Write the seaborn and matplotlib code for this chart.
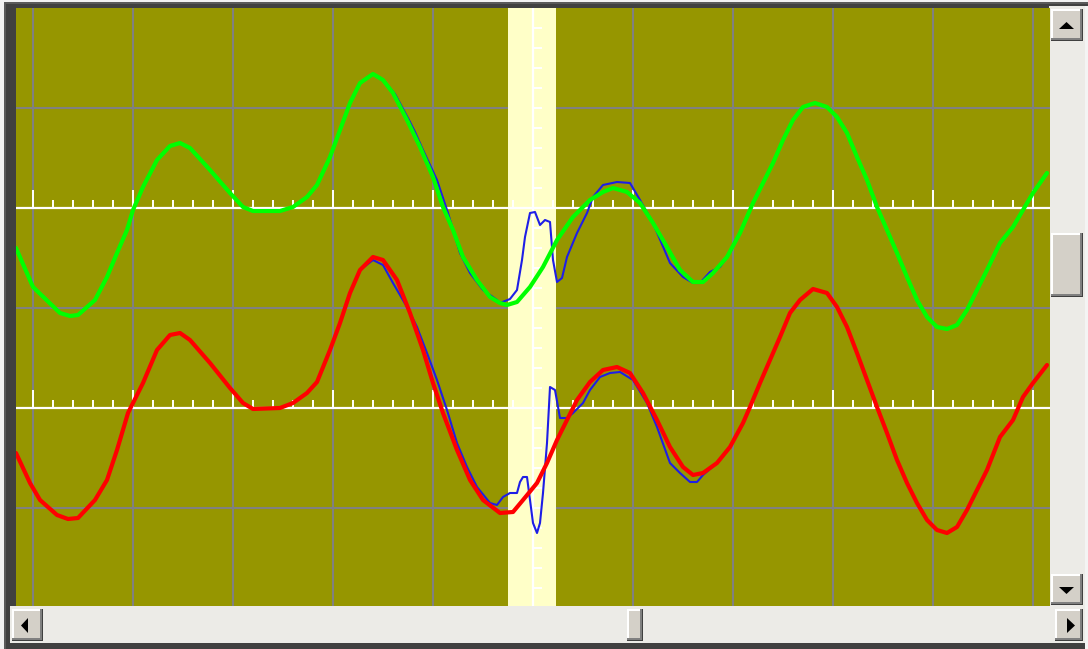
import matplotlib
matplotlib.use('Agg')

import numpy as np
import pandas as pd
import seaborn as sns
import matplotlib.pyplot as plt
from matplotlib.patches import Rectangle, Polygon

# time in divisions (0 = trigger cursor), amplitude in divisions about each channel's baseline
ch1_t = [-5.17, -5.00, -4.73, -4.63, -4.55, -4.38, -4.26, -4.16, -4.06, -4.00, -3.90, -3.76,
         -3.63, -3.53, -3.43, -3.23, -3.03, -2.90, -2.80, -2.53, -2.40, -2.26, -2.16, -2.03,
         -1.93, -1.83, -1.73, -1.60, -1.50, -1.40, -1.26, -1.13, -1.00, -0.90, -0.80, -0.70,
         -0.56, -0.43, -0.33, -0.26, -0.16, -0.03, 0.10, 0.24, 0.40, 0.57, 0.70, 0.80, 0.94,
         1.07, 1.20, 1.34, 1.47, 1.60, 1.70, 1.80, 1.94, 2.07, 2.20, 2.30, 2.40, 2.50, 2.60,
         2.70, 2.82, 2.94, 3.04, 3.14, 3.24, 3.34, 3.44, 3.54, 3.64, 3.74, 3.84, 3.94, 4.04,
         4.14, 4.24, 4.34, 4.44, 4.54, 4.67, 4.80, 4.90, 5.00, 5.14]
ch1_v = [-0.40, -0.79, -1.05, -1.08, -1.07, -0.92, -0.69, -0.45, -0.22, -0.02, 0.21, 0.48,
         0.62, 0.65, 0.60, 0.38, 0.15, 0.01, -0.03, -0.03, 0.01, 0.11, 0.23, 0.51,
         0.78, 1.05, 1.25, 1.34, 1.28, 1.15, 0.88, 0.61, 0.31, 0.01, -0.22, -0.49,
         -0.72, -0.89, -0.95, -0.97, -0.94, -0.79, -0.59, -0.32, -0.09, 0.08, 0.16, 0.20, 0.16,
         0.05, -0.15, -0.39, -0.62, -0.74, -0.74, -0.65, -0.49, -0.25, 0.05, 0.25, 0.45, 0.68, 0.88,
         1.01, 1.05, 1.01, 0.91, 0.75, 0.51, 0.28, 0.01, -0.22, -0.45, -0.69, -0.92, -1.09, -1.19,
         -1.21, -1.17, -1.02, -0.82, -0.62, -0.35, -0.19, -0.02, 0.15, 0.35]

ch2_t = [-5.17, -5.03, -4.93, -4.76, -4.65, -4.55, -4.38, -4.26, -4.16, -4.05, -3.90, -3.76,
         -3.63, -3.53, -3.43, -3.23, -3.03, -2.90, -2.80, -2.53, -2.40, -2.26, -2.16, -2.03,
         -1.93, -1.83, -1.73, -1.60, -1.50, -1.36, -1.23, -1.10, -1.00, -0.90, -0.76, -0.63,
         -0.50, -0.33, -0.20, -0.10, 0.04, 0.14, 0.24, 0.34, 0.44, 0.57, 0.70, 0.84, 0.97,
         1.10, 1.24, 1.37, 1.50, 1.60, 1.70, 1.84, 1.97, 2.10, 2.17, 2.27, 2.37, 2.47, 2.57,
         2.67, 2.80, 2.94, 3.04, 3.14, 3.24, 3.34, 3.44, 3.54, 3.64, 3.74, 3.84, 3.94, 4.04,
         4.14, 4.24, 4.34, 4.44, 4.54, 4.67, 4.80, 4.90, 5.00, 5.14]
ch2_v = [-0.45, -0.75, -0.92, -1.07, -1.11, -1.10, -0.92, -0.72, -0.42, -0.05, 0.25, 0.58,
         0.73, 0.75, 0.68, 0.45, 0.20, 0.05, -0.01, 0.00, 0.05, 0.15, 0.26, 0.58,
         0.85, 1.15, 1.38, 1.51, 1.48, 1.28, 0.95, 0.58, 0.25, -0.05, -0.42, -0.72,
         -0.92, -1.05, -1.04, -0.92, -0.75, -0.55, -0.32, -0.12, 0.08, 0.26, 0.38, 0.41, 0.35,
         0.15, -0.12, -0.39, -0.59, -0.67, -0.65, -0.55, -0.39, -0.15, 0.01, 0.25, 0.48, 0.71, 0.95,
         1.08, 1.19, 1.15, 1.01, 0.81, 0.55, 0.28, 0.01, -0.25, -0.52, -0.75, -0.95, -1.12, -1.22,
         -1.25, -1.19, -1.02, -0.82, -0.62, -0.29, -0.12, 0.11, 0.25, 0.43]

# reference (blue) traces around the trigger
ref1_t = [-1.60, -1.50, -1.38, -1.23, -1.18, -1.10, -0.96, -0.85, -0.73, -0.63, -0.50, -0.36,
          -0.33, -0.23, -0.16, -0.11, -0.08, -0.03, 0.02, 0.07, 0.12, 0.17, 0.20, 0.24, 0.29,
          0.34, 0.44, 0.54, 0.60, 0.70, 0.84, 0.97, 1.07, 1.20, 1.37, 1.50, 1.60, 1.67, 1.77,
          1.87, 1.94, 2.07]
ref1_v = [1.34, 1.28, 1.14, 0.86, 0.76, 0.58, 0.28, -0.05, -0.45, -0.65, -0.82, -0.92,
          -0.95, -0.91, -0.82, -0.52, -0.29, -0.05, -0.04, -0.17, -0.12, -0.14, -0.52, -0.74, -0.70,
          -0.49, -0.25, -0.05, 0.11, 0.23, 0.26, 0.25, 0.08, -0.15, -0.55, -0.69, -0.75, -0.75, -0.64,
          -0.59, -0.49, -0.25]

ref2_t = [-1.93, -1.83, -1.73, -1.60, -1.50, -1.40, -1.26, -1.16, -1.06, -0.96, -0.86, -0.76,
          -0.66, -0.56, -0.43, -0.36, -0.30, -0.23, -0.16, -0.13, -0.10, -0.06, -0.03, 0.00, 0.04,
          0.07, 0.10, 0.14, 0.17, 0.22, 0.27, 0.34, 0.40, 0.50, 0.57, 0.67, 0.77, 0.87, 1.00,
          1.14, 1.24, 1.37, 1.47, 1.57, 1.64, 1.70, 1.84]
ref2_v = [0.85, 1.15, 1.38, 1.48, 1.43, 1.25, 1.01, 0.81, 0.55, 0.28, -0.02, -0.35,
          -0.59, -0.79, -0.95, -0.97, -0.89, -0.85, -0.85, -0.74, -0.69, -0.69, -0.92, -1.15, -1.25,
          -1.15, -0.85, -0.35, 0.21, 0.18, -0.10, -0.10, -0.05, 0.05, 0.18, 0.31, 0.35, 0.36, 0.28,
          0.05, -0.19, -0.55, -0.65, -0.74, -0.74, -0.67, -0.55]

ch1_offset = 1.0
ch2_offset = -1.0
cursor_band = (-0.25, 0.23)

W, H = 1088, 649
fig = plt.figure(figsize=(W / 100, H / 100), dpi=100)
fig.patch.set_facecolor('#F2F2F2')

# window chrome (scrollbars, frame) on a pixel-coordinate overlay
chrome = fig.add_axes([0, 0, 1, 1], zorder=0)
chrome.set_xlim(0, W)
chrome.set_ylim(H, 0)
chrome.axis('off')


def rect(x0, y0, x1, y1, color, z=1):
    chrome.add_patch(Rectangle((x0, y0), x1 - x0, y1 - y0, facecolor=color, edgecolor='none', zorder=z))


def button(x0, y0, x1, y1):
    rect(x0, y0, x1, y1, '#404040', 2)
    rect(x0, y0, x1 - 1.5, y1 - 1.5, '#808080', 2)
    rect(x0, y0, x1 - 3, y1 - 3, '#FFFFFF', 2)
    rect(x0 + 1.5, y0 + 1.5, x1 - 3, y1 - 3, '#D4D0C8', 2)


def tri(pts):
    chrome.add_patch(Polygon(pts, closed=True, facecolor='black', edgecolor='none', zorder=3))


rect(4, 2, W, H, '#5A5A5A')
rect(6, 4, W, H, '#404040')
rect(1049, 6, 1085, 607, '#ECEBE7')
rect(10, 606, 1085, 643, '#ECEBE7')
rect(1085, 6, W, H, '#F4F4F4')

button(1051, 9, 1083, 41)
tri([(1059, 29), (1074, 29), (1066.5, 22)])
button(1051, 233, 1083, 297)
button(1051, 574, 1083, 605)
tri([(1059, 587), (1074, 587), (1066.5, 594)])
button(12, 609, 43, 641)
tri([(21, 625.5), (28, 618), (28, 633)])
button(627, 609, 643, 641)
button(1055, 609, 1083, 641)
tri([(1067, 618), (1067, 633), (1075, 625.5)])

# scope screen
ax = fig.add_axes([16 / W, 1 - 606 / H, (1050 - 16) / W, (606 - 8) / H], zorder=1)
ax.set_facecolor('#969600')

grid_c = '#808080'
for gx in range(-5, 6):
    ax.axvline(gx, color=grid_c, lw=1.5, zorder=1)
for gy in (-2, 0, 2):
    ax.axhline(gy, color=grid_c, lw=1.5, zorder=1)

ax.axvspan(*cursor_band, color='#FFFFC8', lw=0, zorder=2)

# white baselines with graticule ticks
for base in (ch1_offset, ch2_offset):
    ax.axhline(base, color='white', lw=1.6, zorder=3)
    minor = np.arange(-5.0, 5.17, 0.2)
    ax.vlines(minor, base, base + 0.08, color='white', lw=1.4, zorder=3)
    ax.vlines(np.arange(-5, 6), base, base + 0.18, color='white', lw=1.4, zorder=3)

ax.axvline(0, color='white', lw=1.6, zorder=3)
ax.hlines(np.arange(-2.8, 3.0, 0.2), 0, 0.085, color='white', lw=1.4, zorder=3)

ref1 = pd.DataFrame({'t': ref1_t, 'v': np.array(ref1_v) + ch1_offset})
ref2 = pd.DataFrame({'t': ref2_t, 'v': np.array(ref2_v) + ch2_offset})
ch1 = pd.DataFrame({'t': ch1_t, 'v': np.array(ch1_v) + ch1_offset})
ch2 = pd.DataFrame({'t': ch2_t, 'v': np.array(ch2_v) + ch2_offset})

line_kw = dict(sort=False, estimator=None, solid_joinstyle='round', solid_capstyle='round')
sns.lineplot(data=ref1, x='t', y='v', ax=ax, color='#1E1EE6', lw=1.5, zorder=4, **line_kw)
sns.lineplot(data=ref2, x='t', y='v', ax=ax, color='#1E1EE6', lw=1.5, zorder=4, **line_kw)
sns.lineplot(data=ch1, x='t', y='v', ax=ax, color='#00FF00', lw=3.0, zorder=5, **line_kw)
sns.lineplot(data=ch2, x='t', y='v', ax=ax, color='#FF0000', lw=3.0, zorder=5, **line_kw)

ax.set_xlim(-5.17, 5.17)
ax.set_ylim(-2.98, 3.0)
ax.set_xticks([])
ax.set_yticks([])
ax.set_xlabel('')
ax.set_ylabel('')
for s in ax.spines.values():
    s.set_visible(False)

fig.savefig('out.png', dpi=100, facecolor=fig.get_facecolor())
